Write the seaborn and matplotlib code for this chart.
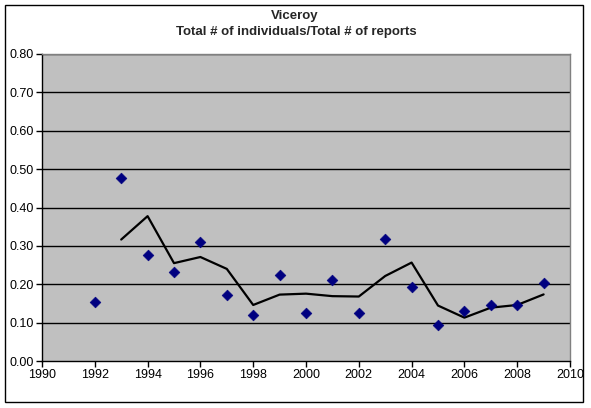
import matplotlib
matplotlib.use("Agg")
import matplotlib.pyplot as plt
from matplotlib.patches import Rectangle
import pandas as pd
import seaborn as sns

# Viceroy: total individuals / total reports per year
years = [1992, 1993, 1994, 1995, 1996, 1997, 1998, 1999, 2000,
         2001, 2002, 2003, 2004, 2005, 2006, 2007, 2008, 2009]
ratio = [0.155, 0.478, 0.277, 0.233, 0.309, 0.171, 0.121, 0.225, 0.126,
         0.212, 0.124, 0.319, 0.194, 0.095, 0.131, 0.147, 0.145, 0.202]
x_ticks = list(range(1990, 2011, 2))
y_ticks = [i / 10 for i in range(0, 9)]

W, H = 591, 408


def main():
    df = pd.DataFrame({"Year": years, "Ratio": ratio})
    # 2-period moving average trendline, like Excel
    df["MA"] = df["Ratio"].rolling(2).mean()

    sns.set_theme(style="white")
    plt.rcParams["font.family"] = ["Liberation Sans", "DejaVu Sans"]

    fig = plt.figure(figsize=(W / 100, H / 100), dpi=100)
    fig.patch.set_facecolor("white")
    # outer chart border
    fig.patches.append(Rectangle((5 / W, 1 - 402 / H), 578 / W, 397 / H,
                                 transform=fig.transFigure, fill=False,
                                 edgecolor="black", linewidth=1))

    ax = fig.add_axes([42 / W, 1 - 361 / H, 528 / W, 307 / H])
    ax.set_facecolor("#C0C0C0")

    for y in y_ticks[1:]:
        ax.axhline(y, color="black", linewidth=1, zorder=1)

    sns.lineplot(data=df.dropna(), x="Year", y="MA", color="black",
                 linewidth=1.6, ax=ax, zorder=3)
    sns.scatterplot(data=df, x="Year", y="Ratio", marker="D", s=30,
                    color="#000080", edgecolor="#000080", ax=ax, zorder=4)

    ax.set_xlim(1990, 2010)
    ax.set_ylim(0, 0.8)
    ax.set_xticks(x_ticks)
    ax.set_yticks(y_ticks)
    ax.set_yticklabels([f"{v:.2f}" for v in y_ticks])
    ax.set_xlabel("")
    ax.set_ylabel("")
    ax.tick_params(axis="both", direction="out", length=4, width=1,
                   color="black", labelsize=9, labelcolor="black",
                   bottom=True, left=True, pad=2)

    for side in ["top", "right"]:
        ax.spines[side].set_color("#808080")
        ax.spines[side].set_linewidth(1)
    for side in ["left", "bottom"]:
        ax.spines[side].set_color("black")
        ax.spines[side].set_linewidth(1)

    fig.text(295 / W, 1 - 16 / H, "Viceroy", ha="center", va="center",
             fontsize=9.5, fontweight="bold")
    fig.text(296 / W, 1 - 32 / H, "Total # of individuals/Total # of reports",
             ha="center", va="center", fontsize=9.5, fontweight="bold")

    fig.savefig("out.png", dpi=100)


main()
